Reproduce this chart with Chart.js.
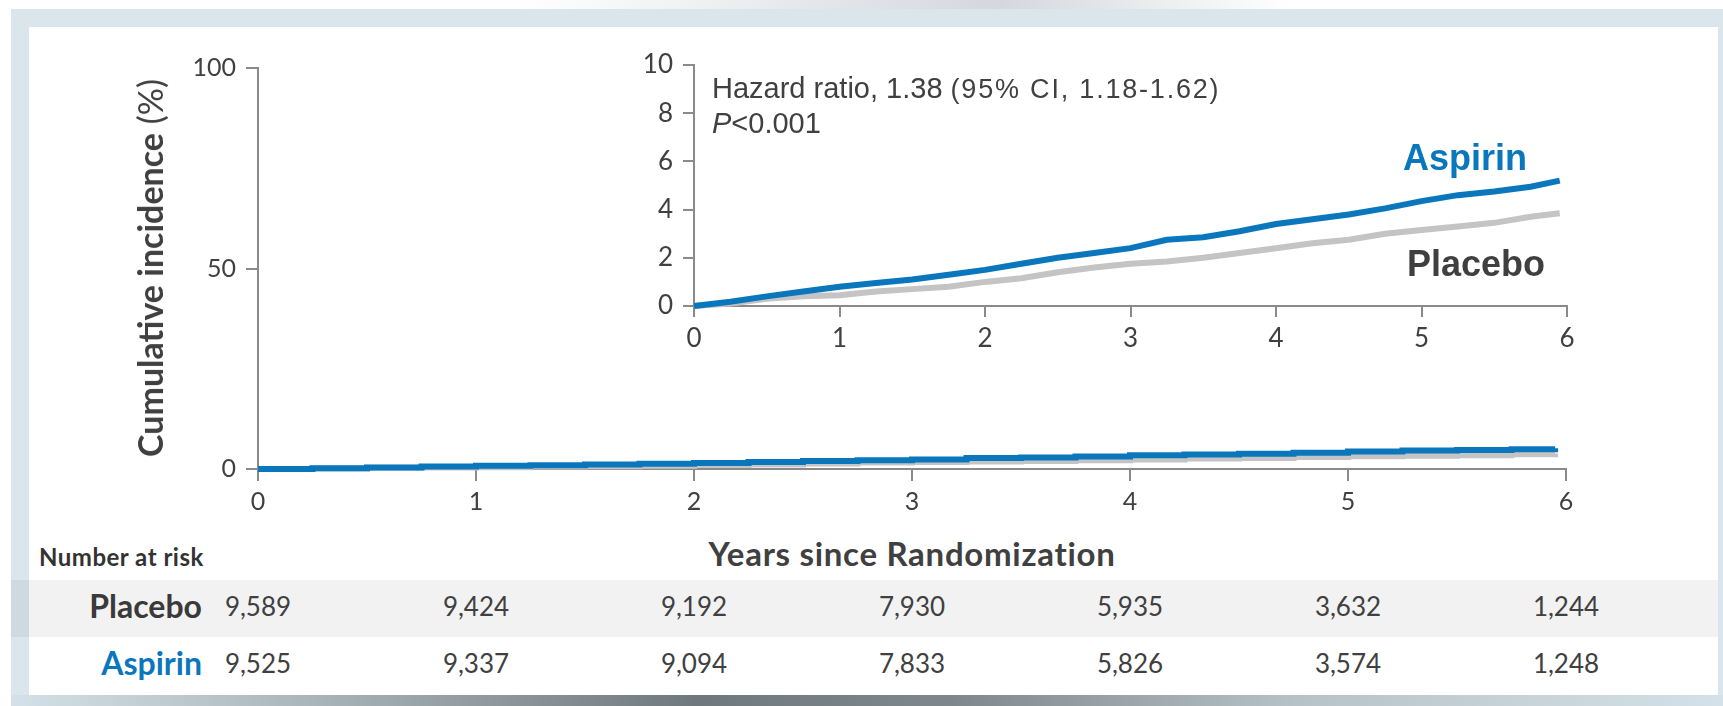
<!DOCTYPE html>
<html lang="en">
<head>
  <meta charset="UTF-8">
  <title>Cumulative incidence – Aspirin vs Placebo</title>
  <style>
    body {
      margin: 0;
      width: 1723px;
      height: 706px;
      overflow: hidden;
      background: #ffffff;
      position: relative;
      font-family: Lato, "Open Sans", sans-serif;
      color: #404040;
    }
    .abs { position: absolute; white-space: nowrap; }
    /* slide frame */
    .shade-top {
      left: 0; top: 0; width: 1723px; height: 9px;
      background: linear-gradient(to right, #fff 30%, #e3e6e9 48%, #d4d8dc 58%, #fff 75%);
    }
    .band-top { left: 11px; top: 9px; width: 1712px; height: 18px; background: #dae5ec; }
    .band-left { left: 11px; top: 9px; width: 18px; height: 686px; background: #dae5ec; }
    .band-right { left: 1718px; top: 9px; width: 5px; height: 686px; background: #dae5ec; }
    .band-bottom {
      left: 11px; top: 695px; width: 1712px; height: 11px;
      background: linear-gradient(to right, #d5e1e8 0%, #a9b4ba 18%, #6e787d 40%, #7d878c 55%, #b7c2c8 75%, #d5e1e8 100%);
    }
    .row-shade { left: 11px; top: 580px; width: 1707px; height: 57px; background: rgba(0,0,0,0.05); }
    canvas { position: absolute; }
    .ytitle {
      left: 150px; top: 268px;
      transform: translate(-50%, -50%) rotate(-90deg);
      font-size: 34px; line-height: 34px; color: #404040;
    }
    .ytitle b { font-weight: 700; }
    .ytitle span { font-weight: 400; }
    .xtitle { left: 912px; top: 537px; transform: translateX(-50%); font-size: 33px; line-height: 33px; letter-spacing: 0.7px; font-weight: 700; color: #404040; }
    .risk-head { left: 39px; top: 545px; font-size: 24px; line-height: 24px; letter-spacing: 0.5px; font-weight: 700; color: #333; }
    .row-label { font-size: 32px; line-height: 32px; font-weight: 700; text-align: right; }
    .risk-num { font-size: 26px; line-height: 26px; color: #404040; transform: translateX(-50%); }
    .hr { left: 712px; top: 74px; font-family: "Liberation Sans", Arial, sans-serif; font-size: 29px; line-height: 29px; color: #404040; }
    .hr small { font-size: 27px; letter-spacing: 1.8px; }
    .pval { left: 712px; top: 109px; font-family: "Liberation Sans", Arial, sans-serif; font-size: 29px; line-height: 29px; color: #404040; }
    .arm { font-family: "Liberation Sans", Arial, sans-serif; font-size: 36px; line-height: 36px; font-weight: 700; }
  </style>
</head>
<body>
  <div class="abs shade-top"></div>
  <div class="abs band-top"></div>
  <div class="abs band-left"></div>
  <div class="abs band-right"></div>
  <div class="abs band-bottom"></div>
  <div class="abs row-shade"></div>

  <canvas id="mainChart" width="1486" height="481" style="left:100px; top:38px;"></canvas>
  <canvas id="insetChart" width="953" height="316" style="left:634px; top:35px;"></canvas>

  <div class="abs ytitle"><b>Cumulative incidence</b> <span>(%)</span></div>
  <div class="abs xtitle">Years since Randomization</div>

  <div class="abs hr">Hazard ratio, 1.38 <small>(95% CI, 1.18-1.62)</small></div>
  <div class="abs pval"><i>P</i>&lt;0.001</div>
  <div class="abs arm" style="left:1403px; top:140px; color:#0a77bd;">Aspirin</div>
  <div class="abs arm" style="left:1407px; top:246px; color:#3f3f3f;">Placebo</div>

  <div class="abs risk-head">Number at risk</div>
  <div class="abs row-label" style="right:1521px; top:590px; color:#3a3a3a;">Placebo</div>
  <div class="abs row-label" style="right:1521px; top:647px; color:#0a77bd;">Aspirin</div>
  <div id="riskTable"></div>

  <script src="https://cdn.jsdelivr.net/npm/chart.js"></script>
  <script>
    // years since randomization and cumulative incidence (%) per arm
    const years      = [0, 0.25, 0.5, 0.75, 1, 1.25, 1.5, 1.75, 2, 2.25, 2.5, 2.75, 3, 3.25, 3.5, 3.75, 4, 4.25, 4.5, 4.75, 5, 5.25, 5.5, 5.75, 5.95];
    const aspirinInc = [0, 0.18, 0.4, 0.6, 0.8, 0.95, 1.1, 1.3, 1.5, 1.75, 2.0, 2.2, 2.4, 2.75, 2.85, 3.1, 3.4, 3.6, 3.8, 4.05, 4.35, 4.6, 4.75, 4.95, 5.2];
    const placeboInc = [0, 0.1, 0.3, 0.4, 0.45, 0.6, 0.7, 0.8, 1.0, 1.15, 1.4, 1.6, 1.75, 1.85, 2.0, 2.2, 2.4, 2.6, 2.75, 3.0, 3.15, 3.3, 3.45, 3.7, 3.85];

    // number at risk at each whole year
    const riskYears   = [0, 1, 2, 3, 4, 5, 6];
    const placeboRisk = [9589, 9424, 9192, 7930, 5935, 3632, 1244];
    const aspirinRisk = [9525, 9337, 9094, 7833, 5826, 3574, 1248];

    const xTicks = [0, 1, 2, 3, 4, 5, 6];
    const mainYTicks = [0, 50, 100];
    const insetYTicks = [0, 2, 4, 6, 8, 10];

    const BLUE = '#0a77bd';
    const GREY = '#c4c4c4';
    const AXIS = '#8a8a8a';

    const toPoints = vals => years.map((x, i) => ({ x: x, y: vals[i] }));

    function makeDatasets(width, stepped) {
      return [
        { label: 'Aspirin', data: toPoints(aspirinInc), borderColor: BLUE, borderWidth: width, order: 0 },
        { label: 'Placebo', data: toPoints(placeboInc), borderColor: GREY, borderWidth: width, order: 1 }
      ].map(d => Object.assign(d, { pointRadius: 0, tension: 0, stepped: stepped, fill: false, clip: false, borderCapStyle: 'butt' }));
    }

    function axes(yMax, yTicks, yWidth, xHeight, fontSize, tickLen) {
      const font = { family: 'Lato', size: fontSize };
      return {
        x: {
          type: 'linear', min: 0, max: 6,
          afterBuildTicks: s => { s.ticks = xTicks.map(v => ({ value: v })); },
          afterFit: s => { s.height = xHeight; },
          grid: { drawOnChartArea: false, tickLength: tickLen, color: AXIS, lineWidth: 2 },
          border: { color: AXIS, width: 2 },
          ticks: { color: '#404040', font: font, padding: 6, maxRotation: 0 }
        },
        y: {
          min: 0, max: yMax,
          afterBuildTicks: s => { s.ticks = yTicks.map(v => ({ value: v })); },
          afterFit: s => { s.width = yWidth; },
          grid: { drawOnChartArea: false, tickLength: tickLen, color: AXIS, lineWidth: 2 },
          border: { color: AXIS, width: 2 },
          ticks: { color: '#404040', font: font, padding: 10 }
        }
      };
    }

    const common = {
      responsive: false,
      animation: false,
      events: [],
      plugins: { legend: { display: false }, tooltip: { enabled: false } }
    };

    const mainChart = new Chart(document.getElementById('mainChart'), {
      type: 'line',
      data: { datasets: makeDatasets(6, true) },
      options: Object.assign({}, common, {
        layout: { padding: { top: 30, right: 20, bottom: 0, left: 0 } },
        scales: axes(100, mainYTicks, 158, 50, 25, 12)
      })
    });

    new Chart(document.getElementById('insetChart'), {
      type: 'line',
      data: { datasets: makeDatasets(6, false) },
      options: Object.assign({}, common, {
        layout: { padding: { top: 30, right: 20, bottom: 0, left: 0 } },
        scales: axes(10, insetYTicks, 60, 45, 26, 11)
      })
    });

    // number-at-risk columns line up with the main x axis ticks
    const table = document.getElementById('riskTable');
    const canvasLeft = 100;
    const fmt = n => n.toLocaleString('en-US');
    riskYears.forEach((yr, i) => {
      const cx = canvasLeft + mainChart.scales.x.getPixelForValue(yr);
      [[placeboRisk[i], 593], [aspirinRisk[i], 650]].forEach(([n, top]) => {
        const el = document.createElement('div');
        el.className = 'abs risk-num';
        el.style.left = cx + 'px';
        el.style.top = top + 'px';
        el.textContent = fmt(n);
        table.appendChild(el);
      });
    });
  </script>
</body>
</html>
